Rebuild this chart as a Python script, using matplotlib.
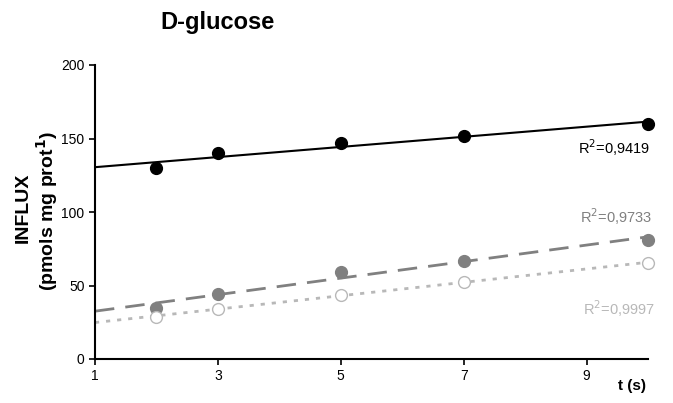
import numpy as np
import matplotlib
matplotlib.use("Agg")
import matplotlib.pyplot as plt

plt.rcParams['font.family'] = ['Liberation Sans', 'DejaVu Sans']

t = [2, 3, 5, 7, 10]
series_black = [130, 140, 146.6, 151.6, 160]
series_gray = [34.5, 44.5, 59.5, 66.8, 81]
series_light = [28.9, 34, 43.6, 52.3, 65.5]
r2_labels = ["0,9419", "0,9733", "0,9997"]
x_ticks = [1, 3, 5, 7, 9]
y_ticks = [0, 50, 100, 150, 200]

fig = plt.figure(figsize=(6.73, 4.03), dpi=100)
ax = fig.add_axes([95/673, 1-359/403, (648-95)/673, (359-65)/403])

xfit = np.array([1, 10])
specs = [
    (series_black, 'black', '-', 1.5, 'black', 'black', r2_labels[0], 143.5, 10.04),
    (series_gray, '#808080', (0, (7, 4)), 2.0, '#808080', '#808080', r2_labels[1], 96.5, 10.07),
    (series_light, '#b8b8b8', (0, (1.5, 2.5)), 2.0, 'white', '#b8b8b8', r2_labels[2], 34.5, 10.12),
]
for ys, col, ls, lw, mfc, mec, r2, ty, tx in specs:
    p = np.polyfit(t, ys, 1)
    ax.plot(xfit, np.polyval(p, xfit), color=col, linestyle=ls, linewidth=lw, zorder=2)
    ax.plot(t, ys, linestyle='none', marker='o', markersize=8.5,
            markerfacecolor=mfc, markeredgecolor=mec, markeredgewidth=1.0,
            zorder=3, clip_on=False)
    ax.text(tx, ty, "R$^2$=" + r2, color=col, ha='right', va='center',
            fontsize=10.5)

ax.set_xlim(1, 10)
ax.set_ylim(0, 200)
ax.set_xticks(x_ticks)
ax.set_yticks(y_ticks)
ax.tick_params(labelsize=10, length=4, width=1.2, direction='out')
for s in ['top', 'right']:
    ax.spines[s].set_visible(False)
for s in ['left', 'bottom']:
    ax.spines[s].set_linewidth(1.5)

fig.text(218/673, 1-23/403, "D-glucose", fontsize=17, fontweight='bold',
         ha='center', va='center')
fig.text(23/673, 1-208/403, "INFLUX", fontsize=14, fontweight='bold',
         rotation=90, ha='center', va='center')
fig.text(47/673, 1-211/403, "(pmols mg prot$^{\\mathbf{1}}$)", fontsize=14,
         fontweight='bold', rotation=90, ha='center', va='center')
fig.text(632/673, 1-386/403, "t (s)", fontsize=11, fontweight='bold',
         ha='center', va='center')

fig.savefig("out.png", dpi=100)
